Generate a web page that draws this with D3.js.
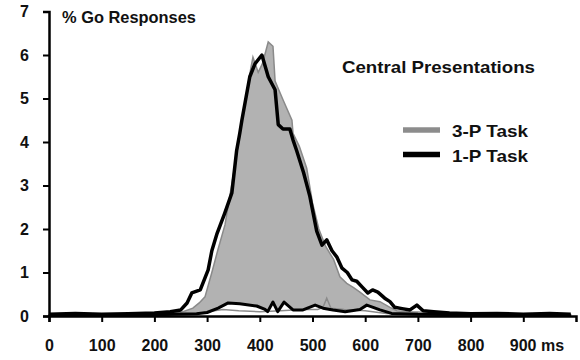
<!DOCTYPE html>
<html>
<head>
<meta charset="utf-8">
<script src="https://cdn.jsdelivr.net/npm/d3@7"></script>
<style>
  body { margin: 0; background: #fff; }
  text { font-family: "Liberation Sans", Arial, sans-serif; font-weight: bold; }
</style>
</head>
<body>
<script>
// % Go Responses, central presentations

let width = 580
let height = 360

// 1-P task (black line)
let oneP_ms = [0, 50, 100, 150, 200, 230, 250, 262, 271, 287, 302, 309, 319, 333, 347, 356, 362, 366, 381, 391, 404, 416, 429, 435, 444, 457, 463, 470, 483, 495, 508, 518, 527, 537, 546, 556, 566, 575, 584, 594, 605, 614, 624, 637, 647, 656, 670, 685, 698, 710, 730, 760, 800, 850, 900, 950, 990]
let oneP_val = [0.04, 0.06, 0.04, 0.05, 0.07, 0.1, 0.14, 0.3, 0.53, 0.6, 1.06, 1.5, 1.9, 2.35, 2.83, 3.8, 4.2, 4.5, 5.5, 5.8, 6.0, 5.5, 5.2, 4.4, 4.3, 4.3, 4.05, 3.8, 3.3, 2.75, 1.95, 1.63, 1.75, 1.5, 1.36, 1.1, 1.0, 0.83, 0.8, 0.67, 0.53, 0.6, 0.55, 0.41, 0.33, 0.2, 0.17, 0.14, 0.25, 0.12, 0.1, 0.07, 0.05, 0.06, 0.04, 0.06, 0.04]

// 3-P task (grey area)
let threeP_ms = [0, 50, 100, 150, 200, 250, 273, 285, 296, 309, 320, 334, 345, 360, 372, 383, 387, 397, 405, 416, 425, 429, 444, 461, 463, 475, 489, 500, 512, 525, 540, 552, 565, 578, 590, 609, 628, 647, 660, 680, 700, 730, 760, 800, 850, 900, 950, 990]
let threeP_val = [0.03, 0.04, 0.03, 0.04, 0.05, 0.08, 0.18, 0.3, 0.44, 1.0, 1.5, 2.1, 2.9, 4.0, 4.9, 5.7, 5.95, 5.6, 5.8, 6.3, 6.2, 5.4, 4.97, 4.5, 4.2, 3.9, 3.4, 2.6, 2.0, 1.6, 1.3, 0.9, 0.75, 0.65, 0.55, 0.37, 0.33, 0.2, 0.12, 0.1, 0.09, 0.07, 0.05, 0.04, 0.04, 0.03, 0.03, 0.03]

// small curves near the baseline
let oneP_low_ms = [0, 100, 200, 280, 300, 321, 340, 362, 394, 410, 415, 425, 434, 446, 463, 482, 505, 520, 539, 562, 590, 603, 615, 628, 650, 700, 800, 900, 990]
let oneP_low_val = [0.02, 0.02, 0.03, 0.05, 0.08, 0.18, 0.3, 0.28, 0.23, 0.15, 0.1, 0.32, 0.1, 0.32, 0.14, 0.14, 0.25, 0.18, 0.14, 0.1, 0.15, 0.25, 0.2, 0.14, 0.06, 0.04, 0.03, 0.02, 0.02]
let threeP_low_ms = [0, 200, 280, 300, 330, 360, 400, 440, 480, 510, 520, 527, 535, 560, 600, 640, 700, 990]
let threeP_low_val = [0.02, 0.03, 0.05, 0.1, 0.15, 0.12, 0.1, 0.12, 0.15, 0.15, 0.2, 0.41, 0.18, 0.15, 0.12, 0.06, 0.03, 0.02]

let xTicks = [0, 100, 200, 300, 400, 500, 600, 700, 800, 900]
let yTicks = [0, 1, 2, 3, 4, 5, 6, 7]

let zip = (xs, ys) => xs.map((x, i) => [x, ys[i]])

let x = d3.scaleLinear().domain([0, 1000]).range([49, 576])
let y = d3.scaleLinear().domain([0, 7]).range([316, 11.5])

let svg = d3.select('body').append('svg')
  .attr('width', width)
  .attr('height', height)

let line = d3.line().x(d => x(d[0])).y(d => y(d[1]))
let area = d3.area().x(d => x(d[0])).y0(y(0)).y1(d => y(d[1]))

// grey area
svg.append('path')
  .datum(zip(threeP_ms, threeP_val))
  .attr('d', area)
  .attr('fill', '#b2b2b2')
  .attr('stroke', '#8a8a8a')
  .attr('stroke-width', 1.5)

// white gap under the low 1-P curve
svg.append('path')
  .datum(zip(oneP_low_ms, oneP_low_val))
  .attr('d', area)
  .attr('fill', '#fff')

svg.append('path')
  .datum(zip(threeP_low_ms, threeP_low_val))
  .attr('d', line)
  .attr('fill', 'none')
  .attr('stroke', '#8a8a8a')
  .attr('stroke-width', 1.5)

svg.append('path')
  .datum(zip(oneP_low_ms, oneP_low_val))
  .attr('d', line)
  .attr('fill', 'none')
  .attr('stroke', '#000')
  .attr('stroke-width', 3)
  .attr('stroke-linejoin', 'round')

svg.append('path')
  .datum(zip(oneP_ms, oneP_val))
  .attr('d', line)
  .attr('fill', 'none')
  .attr('stroke', '#000')
  .attr('stroke-width', 3.5)
  .attr('stroke-linejoin', 'round')

// axes
let xAxis = svg.append('g')
  .attr('transform', 'translate(0,' + y(0) + ')')
  .call(d3.axisBottom(x).tickValues(xTicks).tickSize(6).tickPadding(18)
    .tickFormat(d => d === 900 ? '900 ms' : d))
xAxis.select('.domain').attr('stroke-width', 2.5)
xAxis.selectAll('.tick line').attr('stroke-width', 2)
xAxis.selectAll('.tick text')
  .attr('font-size', 16)
  .attr('font-family', '"Liberation Sans", Arial, sans-serif')
  .attr('fill', '#111')
  .filter(d => d === 900)
  .attr('text-anchor', 'start')
  .attr('dx', -14)

let yAxis = svg.append('g')
  .attr('transform', 'translate(' + x(0) + ',0)')
  .call(d3.axisLeft(y).tickValues(yTicks).tickSize(6).tickPadding(14).tickFormat(d3.format('d')))
yAxis.select('.domain').attr('stroke-width', 2.5)
yAxis.selectAll('.tick line').attr('stroke-width', 2)
yAxis.selectAll('.tick text')
  .attr('font-size', 16)
  .attr('font-family', '"Liberation Sans", Arial, sans-serif')
  .attr('fill', '#111')

// labels
svg.append('text')
  .attr('x', 62).attr('y', 23)
  .attr('font-size', 16.5)
  .attr('fill', '#111')
  .attr('textLength', 134).attr('lengthAdjust', 'spacingAndGlyphs')
  .text('% Go Responses')

svg.append('text')
  .attr('x', 342).attr('y', 73)
  .attr('font-size', 17)
  .attr('fill', '#111')
  .attr('textLength', 193).attr('lengthAdjust', 'spacingAndGlyphs')
  .text('Central Presentations')

// legend
let legendNames = ['3-P Task', '1-P Task']
let legendColors = ['#8c8c8c', '#000']
let legend = svg.selectAll('.legend')
  .data(legendNames)
  .enter()
  .append('g')
  .attr('class', 'legend')
  .attr('transform', (d, i) => 'translate(0,' + (130 + 24.5 * i) + ')')
legend.append('line')
  .attr('x1', 403).attr('x2', 440)
  .attr('stroke', (d, i) => legendColors[i])
  .attr('stroke-width', 5.5)
legend.append('text')
  .attr('x', 452).attr('y', 7)
  .attr('font-size', 17)
  .attr('fill', '#111')
  .attr('textLength', 76).attr('lengthAdjust', 'spacingAndGlyphs')
  .text(d => d)
</script>
</body>
</html>
